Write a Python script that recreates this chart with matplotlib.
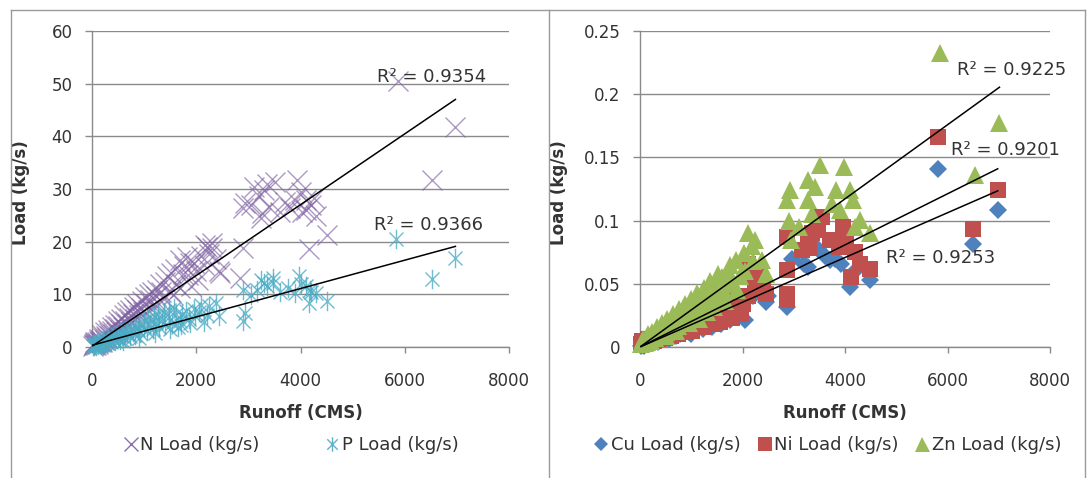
import matplotlib
matplotlib.use("Agg")
import matplotlib.pyplot as plt
import numpy as np
from matplotlib.path import Path
from matplotlib.lines import Line2D

plt.rcParams['font.family'] = ['DejaVu Sans']

# ---------------- data ----------------
N_pts = [(15, 0.2), (30, 0.5), (45, 0.3), (55, 1.0), (60, 0.7), (75, 0.4), (90, 0.9), (110, 0.6),
         (125, 1.6), (130, 1.1), (150, 0.9), (170, 1.4), (185, 2.2), (190, 1.0), (215, 1.7), (240, 1.4),
         (255, 2.8), (265, 2.0), (290, 1.8), (315, 3.2), (320, 2.6), (350, 2.1), (375, 3.8), (380, 3.0),
         (410, 2.5), (435, 4.2), (440, 3.4), (470, 2.9), (495, 4.9), (500, 4.0), (530, 3.3), (555, 5.3),
         (565, 4.4), (600, 3.8), (615, 6.0), (635, 5.0), (670, 4.3), (675, 6.6), (705, 5.6), (735, 7.0),
         (740, 4.8), (780, 6.2), (800, 7.6), (820, 5.4), (860, 7.0), (870, 8.2), (900, 6.0), (940, 7.5),
         (950, 8.8), (985, 6.7), (1020, 9.4), (1030, 8.2), (1075, 7.1), (1090, 10.0), (1120, 8.9),
         (1160, 10.5), (1170, 7.8), (1220, 9.6), (1243, 10.9), (1270, 8.4), (1300, 12.0), (1320, 10.5),
         (1375, 9.2), (1400, 12.4), (1442, 13.4), (1500, 10.6), (1520, 14.0), (1560, 9.8), (1600, 14.8),
         (1620, 12.0), (1690, 11.2), (1688, 16.5), (1750, 13.8), (1774, 15.3), (1820, 17.0), (1850, 13.6),
         (1880, 15.9), (1900, 11.6), (1960, 16.0), (2000, 14.5), (2040, 12.8), (2100, 17.2), (2150, 15.5),
         (2173, 19.4), (2200, 19.0), (2250, 17.6), (2300, 19.8), (2306, 18.8), (2380, 16.8), (2439, 14.4),
         (2455, 14.0), (2838, 13.1), (2904, 18.8), (2904, 26.4), (2937, 27.3), (3050, 27.0), (3100, 30.3),
         (3203, 28.6), (3250, 24.5), (3270, 25.4), (3303, 29.8), (3350, 31.0), (3400, 26.5), (3502, 31.4),
         (3600, 25.6), (3700, 27.5), (3801, 26.4), (3901, 27.9), (3934, 31.7), (4000, 29.5), (4034, 25.7),
         (4100, 26.0), (4101, 27.9), (4167, 18.7), (4200, 27.0), (4250, 28.2), (4300, 24.8), (4499, 21.3),
         (5862, 50.5), (6526, 31.8), (6972, 41.7)]

P_pts = [(15, 0.1), (30, 0.3), (45, 0.1), (50, 0.6), (60, 0.4), (80, 0.2), (100, 0.5), (120, 0.3),
         (140, 1.0), (145, 0.6), (170, 0.4), (200, 0.8), (220, 1.3), (230, 0.6), (260, 1.0), (290, 0.7),
         (310, 1.7), (330, 1.2), (370, 0.9), (400, 2.0), (410, 1.5), (450, 1.1), (480, 2.4), (490, 1.8),
         (530, 1.4), (560, 2.8), (580, 2.1), (600, 1.2), (630, 1.7), (650, 3.2), (680, 2.5), (730, 2.0),
         (740, 3.6), (780, 2.9), (820, 4.0), (830, 2.3), (880, 3.3), (900, 1.8), (910, 4.4), (930, 2.6),
         (990, 3.8), (1000, 5.0), (1050, 3.0), (1080, 5.4), (1110, 4.3), (1170, 3.4), (1180, 5.9),
         (1200, 2.6), (1230, 4.7), (1260, 6.2), (1290, 3.8), (1350, 5.2), (1380, 6.6), (1410, 4.2),
         (1470, 5.7), (1480, 7.0), (1500, 3.5), (1540, 4.6), (1580, 7.5), (1610, 6.2), (1650, 3.8),
         (1680, 5.0), (1708, 4.2), (1720, 6.2), (1800, 6.8), (1860, 5.4), (1874, 4.6), (1950, 7.2),
         (1974, 5.8), (2060, 6.6), (2100, 8.0), (2150, 4.8), (2200, 6.0), (2240, 7.7), (2373, 8.3),
         (2439, 5.8), (2904, 4.9), (2937, 6.4), (2904, 10.9), (3050, 9.8), (3170, 10.9), (3250, 12.8),
         (3303, 12.1), (3350, 11.5), (3469, 13.1), (3477, 12.1), (3600, 10.5), (3768, 11.2), (3900, 10.2),
         (3968, 13.4), (4000, 12.0), (4101, 11.5), (4167, 8.3), (4181, 10.8), (4200, 10.5), (4300, 10.2),
         (4499, 8.7), (5829, 20.5), (6526, 12.9), (6972, 16.9)]

Cu_pts = [(20, 0.001), (50, 0.002), (80, 0.001), (110, 0.003), (150, 0.002), (200, 0.004), (250, 0.003),
          (300, 0.005), (360, 0.004), (420, 0.006), (490, 0.007), (560, 0.006), (630, 0.008), (700, 0.009),
          (780, 0.010), (860, 0.011), (950, 0.012), (1000, 0.010), (1040, 0.013), (1130, 0.015),
          (1220, 0.014), (1310, 0.017), (1400, 0.016), (1500, 0.019), (1580, 0.018), (1640, 0.0211),
          (1750, 0.021), (1850, 0.024), (2048, 0.0211), (2200, 0.040), (2456, 0.0356), (2500, 0.040),
          (2864, 0.0317), (2966, 0.070), (3200, 0.066), (3272, 0.0634), (3476, 0.0779), (3600, 0.072),
          (3714, 0.0686), (3800, 0.070), (3918, 0.066), (4089, 0.0475), (4200, 0.060), (4497, 0.0528),
          (5823, 0.1412), (6504, 0.0818), (6980, 0.1082)]

Ni_pts = [(20, 0.002), (45, 0.005), (70, 0.002), (100, 0.004), (130, 0.003), (165, 0.006), (200, 0.004),
          (240, 0.006), (280, 0.005), (330, 0.007), (380, 0.006), (430, 0.008), (490, 0.007), (550, 0.010),
          (600, 0.012), (610, 0.009), (670, 0.011), (740, 0.010), (800, 0.015), (810, 0.013), (880, 0.012),
          (950, 0.015), (1000, 0.018), (1020, 0.013), (1090, 0.016), (1163, 0.017), (1200, 0.021),
          (1250, 0.016), (1330, 0.019), (1400, 0.024), (1420, 0.018), (1500, 0.021), (1560, 0.020),
          (1640, 0.0224), (1700, 0.030), (1720, 0.024), (1756, 0.044), (1800, 0.023), (1850, 0.032),
          (1880, 0.027), (1980, 0.0264), (2000, 0.034), (2100, 0.040), (2116, 0.066), (2146, 0.060),
          (2184, 0.0554), (2250, 0.045), (2300, 0.060), (2400, 0.050), (2456, 0.0422), (2864, 0.0871),
          (2864, 0.0607), (2864, 0.037), (2864, 0.0422), (3170, 0.0766), (3272, 0.0845), (3300, 0.078),
          (3350, 0.090), (3476, 0.0924), (3544, 0.103), (3700, 0.085), (3884, 0.0792), (3952, 0.095),
          (4021, 0.0871), (4123, 0.0554), (4200, 0.075), (4293, 0.066), (4497, 0.062), (5823, 0.1663),
          (6504, 0.0937), (6980, 0.1241)]

Zn_pts = [(20, 0.002), (40, 0.004), (60, 0.006), (70, 0.003), (100, 0.005), (130, 0.004), (150, 0.010),
          (170, 0.007), (210, 0.005), (230, 0.012), (250, 0.009), (300, 0.007), (330, 0.016), (350, 0.011),
          (400, 0.009), (430, 0.019), (450, 0.014), (500, 0.009), (500, 0.012), (530, 0.022), (560, 0.017),
          (620, 0.014), (640, 0.026), (680, 0.020), (700, 0.013), (740, 0.017), (760, 0.030), (800, 0.026),
          (860, 0.021), (880, 0.034), (920, 0.029), (950, 0.019), (980, 0.024), (1000, 0.038),
          (1040, 0.033), (1100, 0.027), (1120, 0.043), (1150, 0.022), (1160, 0.038), (1220, 0.031),
          (1240, 0.047), (1280, 0.044), (1300, 0.028), (1340, 0.036), (1366, 0.052), (1420, 0.040),
          (1450, 0.032), (1480, 0.047), (1520, 0.058), (1540, 0.037), (1600, 0.055), (1650, 0.036),
          (1660, 0.043), (1700, 0.052), (1720, 0.060), (1756, 0.065), (1800, 0.050), (1878, 0.0686),
          (1900, 0.045), (1950, 0.056), (2020, 0.074), (2050, 0.060), (2116, 0.0898), (2184, 0.080),
          (2200, 0.068), (2252, 0.0845), (2388, 0.0686), (2450, 0.058), (2864, 0.1162), (2900, 0.100),
          (2932, 0.1241), (2950, 0.085), (3100, 0.095), (3272, 0.132), (3272, 0.1162), (3350, 0.105),
          (3408, 0.1267), (3510, 0.1439), (3748, 0.1135), (3816, 0.1241), (3900, 0.108), (3987, 0.1426),
          (4089, 0.1241), (4157, 0.1162), (4200, 0.095), (4293, 0.1003), (4497, 0.0898), (5857, 0.2323),
          (6538, 0.136), (7014, 0.1769)]

# trendline coefficients (slope, intercept) and R^2 labels
N_fit, P_fit = (0.006723, 0.13), (0.002694, 0.32)
Zn_fit, Ni_fit, Cu_fit = (2.93e-5, 0.0), (2.02e-5, 0.0), (1.77e-5, 0.0)
left_r2 = [("R\u00b2 = 0.9354", 6521, 51.3), ("R\u00b2 = 0.9366", 6452, 23.2)]
right_r2 = [("R\u00b2 = 0.9225", 7258, 0.219), ("R\u00b2 = 0.9201", 7121, 0.1558), ("R\u00b2 = 0.9253", 5863, 0.0704)]

x_ticks = [0, 2000, 4000, 6000, 8000]
left_yticks = [0, 10, 20, 30, 40, 50, 60]
right_yticks = [0, 0.05, 0.1, 0.15, 0.2, 0.25]
right_ylabels = ["0", "0.05", "0.1", "0.15", "0.2", "0.25"]

# ---------------- styling ----------------
W, H = 1089, 478
fig = plt.figure(figsize=(W / 100, H / 100), dpi=100)
GRID = '#8a8a8a'
TXT = '#333333'
FS = 12
FS_LEG = 13

ax1 = fig.add_axes([92 / W, 1 - 347 / H, (509 - 92) / W, 316 / H])
ax2 = fig.add_axes([640 / W, 1 - 347 / H, (1050 - 640) / W, 316 / H])

star = Path([(0, -1), (0, 1), (-0.72, -0.72), (0.72, 0.72), (-0.72, 0.72), (0.72, -0.72)],
            [Path.MOVETO, Path.LINETO, Path.MOVETO, Path.LINETO, Path.MOVETO, Path.LINETO])


def unzip(pts):
    return [p[0] for p in pts], [p[1] for p in pts]


def trend(ax, pts, fit):
    xs, _ = unzip(pts)
    xr = np.array([min(xs), max(xs)])
    ax.plot(xr, fit[0] * xr + fit[1], color='black', lw=1.1, zorder=5, clip_on=False)


def style(ax, yticks, ylabels, ylim):
    ax.set_xlim(0, 8000)
    ax.set_ylim(*ylim)
    ax.set_xticks(x_ticks)
    ax.set_xticklabels([str(t) for t in x_ticks])
    ax.set_yticks(yticks)
    ax.set_yticklabels(ylabels)
    ax.set_axisbelow(True)
    ax.yaxis.grid(True, color=GRID, lw=1.0)
    for s in ['top', 'right']:
        ax.spines[s].set_visible(False)
    for s in ['left', 'bottom']:
        ax.spines[s].set_color(GRID)
        ax.spines[s].set_linewidth(1.0)
    ax.tick_params(axis='y', direction='out', length=5, width=1.0, color=GRID, pad=9,
                   labelsize=FS, labelcolor=TXT)
    ax.tick_params(axis='x', direction='out', length=4, width=1.0, color=GRID, pad=14,
                   labelsize=FS, labelcolor=TXT)
    ax.set_xlabel("Runoff (CMS)", fontsize=FS, fontweight='bold', color=TXT)
    ax.set_ylabel("Load (kg/s)", fontsize=FS, fontweight='bold', color=TXT)
    ax.xaxis.set_label_coords(0.5, -66 / 316)
    ax.xaxis.label.set_va('center')
    ax.patch.set_alpha(0)


# left panel
nx, ny = unzip(N_pts)
px_, py_ = unzip(P_pts)
ax1.plot(nx, ny, ls='none', marker='x', ms=14, mew=1.0, color='#7f62a3', alpha=0.65,
         clip_on=False, zorder=3, label='N Load (kg/s)')
ax1.plot(px_, py_, ls='none', marker=star, ms=14, mew=1.0, color='#4bacc6', alpha=0.8,
         clip_on=False, zorder=3.1, label='P Load (kg/s)')
trend(ax1, N_pts, N_fit)
trend(ax1, P_pts, P_fit)
style(ax1, left_yticks, [str(t) for t in left_yticks], (0, 60))
ax1.yaxis.set_label_coords(-62 / 417, 0.49)
for t, x, y in left_r2:
    ax1.text(x, y, t, ha='center', va='center', fontsize=13, color=TXT, zorder=6)

# right panel
cx, cy = unzip(Cu_pts)
ix, iy = unzip(Ni_pts)
zx, zy = unzip(Zn_pts)
ax2.plot(cx, cy, ls='none', marker='D', ms=9.5, mew=0, color='#4f81bd',
         clip_on=False, zorder=3, label='Cu Load (kg/s)')
ax2.plot(ix, iy, ls='none', marker='s', ms=12, mew=0, color='#c0504d',
         clip_on=False, zorder=3.1, label='Ni Load (kg/s)')
ax2.plot(zx, zy, ls='none', marker='^', ms=13.5, mew=0, color='#9bbb59',
         clip_on=False, zorder=3.2, label='Zn Load (kg/s)')
trend(ax2, Zn_pts, Zn_fit)
trend(ax2, Ni_pts, Ni_fit)
trend(ax2, Cu_pts, Cu_fit)
style(ax2, right_yticks, right_ylabels, (0, 0.25))
ax2.yaxis.set_label_coords(-72 / 410, 0.49)
for t, x, y in right_r2:
    ax2.text(x, y, t, ha='center', va='center', fontsize=13, color=TXT, zorder=6)

# legends
leg1 = fig.legend(*ax1.get_legend_handles_labels(), loc='center', bbox_to_anchor=(291 / W, 1 - 445 / H),
                  ncol=2, frameon=False, fontsize=FS_LEG, markerscale=0.75, handlelength=0.8,
                  handletextpad=0.15, columnspacing=3.6, labelcolor=TXT)
for h in leg1.legend_handles:
    h.set_alpha(0.9)
leg2 = fig.legend(*ax2.get_legend_handles_labels(), loc='center', bbox_to_anchor=(828 / W, 1 - 445 / H),
                  ncol=3, frameon=False, fontsize=FS_LEG, markerscale=0.8, handlelength=0.8,
                  handletextpad=0.15, columnspacing=0.9, labelcolor=TXT)

# panel borders
bc = '#9a9a9a'
yt = 1 - 9.5 / H
fig.add_artist(Line2D([11 / W, 1085 / W], [yt, yt], color=bc, lw=1.0))
for xb in [11, 549, 1085]:
    fig.add_artist(Line2D([xb / W, xb / W], [0, yt], color=bc, lw=1.0))

fig.savefig("out.png", dpi=100)
